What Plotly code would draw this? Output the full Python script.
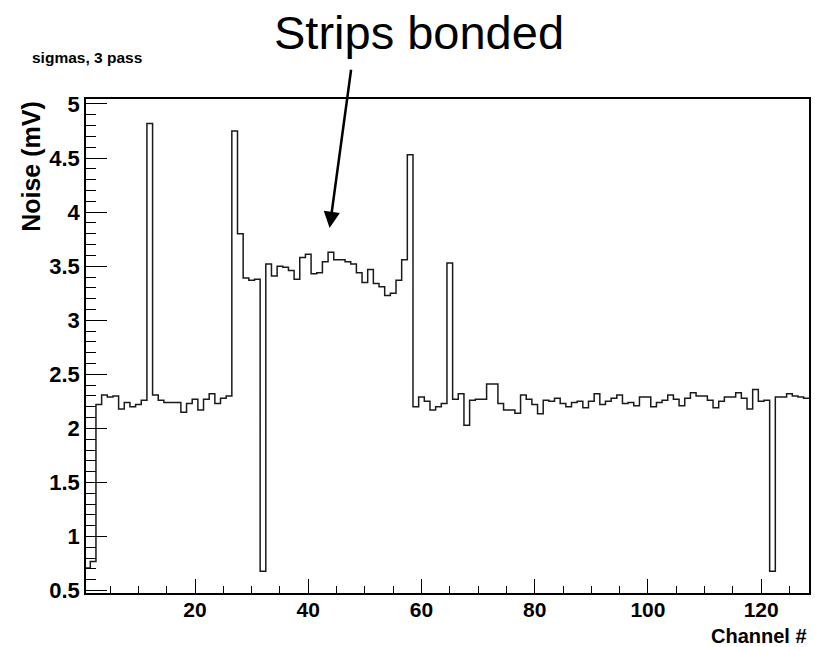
import plotly.graph_objects as go

channels = list(range(1, 129))
noise_mv = [
    0.71, 0.77, 2.22, 2.31, 2.29, 2.30, 2.18, 2.24, 2.20, 2.22,
    2.26, 4.82, 2.31, 2.26, 2.24, 2.24, 2.24, 2.15, 2.23, 2.27,
    2.17, 2.27, 2.32, 2.23, 2.28, 2.30, 4.75, 3.80, 3.39, 3.37,
    3.38, 0.68, 3.52, 3.41, 3.50, 3.49, 3.46, 3.38, 3.58, 3.61,
    3.43, 3.44, 3.54, 3.63, 3.56, 3.56, 3.54, 3.52, 3.44, 3.35,
    3.47, 3.34, 3.31, 3.23, 3.25, 3.37, 3.56, 4.53, 2.20, 2.29,
    2.25, 2.17, 2.20, 2.23, 3.53, 2.27, 2.32, 2.03, 2.26, 2.27,
    2.27, 2.41, 2.41, 2.23, 2.17, 2.17, 2.14, 2.31, 2.27, 2.22,
    2.135, 2.26, 2.25, 2.28, 2.23, 2.20, 2.24, 2.25, 2.19, 2.25,
    2.32, 2.22, 2.25, 2.28, 2.31, 2.23, 2.24, 2.21, 2.29, 2.29,
    2.20, 2.24, 2.26, 2.31, 2.27, 2.21, 2.28, 2.33, 2.30, 2.30,
    2.26, 2.19, 2.25, 2.29, 2.29, 2.33, 2.28, 2.18, 2.36, 2.25,
    2.26, 0.68, 2.29, 2.29, 2.32, 2.30, 2.29, 2.28,
]
x_ticks = [20, 40, 60, 80, 100, 120]
y_ticks = [0.5, 1, 1.5, 2, 2.5, 3, 3.5, 4, 4.5, 5]

# histogram step outline from bin edges
edges = [c - 0.5 for c in channels] + [channels[-1] + 0.5]
step_y = noise_mv + [noise_mv[-1]]

FONT = "Liberation Sans, Arial, Helvetica, sans-serif"

fig = go.Figure()
fig.add_trace(go.Scatter(
    x=edges, y=step_y, mode="lines", line_shape="hv",
    line=dict(color="#1a1a1a", width=1.5), hoverinfo="skip", showlegend=False,
))

fig.update_layout(
    width=815, height=647,
    margin=dict(l=86, r=4, t=99, b=54),
    paper_bgcolor="white", plot_bgcolor="white",
    showlegend=False,
    font=dict(family=FONT, color="black"),
    xaxis=dict(
        range=[0.74, 128.45], tickvals=x_ticks, ticktext=[str(v) for v in x_ticks],
        ticks="inside", ticklen=14, tickwidth=1.3, tickcolor="black",
        minor=dict(ticks="inside", ticklen=7, dtick=5, tick0=0, tickcolor="black", tickwidth=1.3),
        showgrid=False, zeroline=False, showline=True, linecolor="black", linewidth=2, mirror=True,
        tickfont=dict(family=FONT, size=21, color="black", weight="bold"),
        ticklabelstandoff=-3,
    ),
    yaxis=dict(
        range=[0.478, 5.046], tickvals=y_ticks, ticktext=[("%g" % v) for v in y_ticks],
        ticks="inside", ticklen=21, tickwidth=1.3, tickcolor="black",
        minor=dict(ticks="inside", ticklen=10, dtick=0.1, tick0=0.5, tickcolor="black", tickwidth=1.3),
        showgrid=False, zeroline=False, showline=True, linecolor="black", linewidth=1.5, mirror=True,
        tickfont=dict(family=FONT, size=22, color="black", weight="bold"),
    ),
)

fig.add_annotation(
    text="Noise (mV)", textangle=-90, xref="paper", yref="paper",
    x=-0.077, y=1.0, xanchor="center", yanchor="top", showarrow=False,
    font=dict(family=FONT, size=25, color="black", weight="bold"),
)
fig.add_annotation(
    text="Channel #", xref="paper", yref="paper",
    x=1.0, y=-0.088, xanchor="right", yanchor="middle", showarrow=False,
    font=dict(family=FONT, size=20, color="black", weight="bold"),
)
fig.add_annotation(
    text="sigmas, 3 pass", xref="paper", yref="paper",
    x=-0.077, y=1.083, xanchor="left", yanchor="middle", showarrow=False,
    font=dict(family=FONT, size=15.5, color="black", weight="bold"),
)
fig.add_annotation(
    text="Strips bonded", xref="paper", yref="paper",
    x=0.46, y=1.135, xanchor="center", yanchor="middle", showarrow=False,
    font=dict(family=FONT, size=47, color="black"),
)
fig.add_annotation(
    x=43.77, y=3.854, ax=47.6, ay=5.33, xref="x", yref="y", axref="x", ayref="y",
    text="", showarrow=True, arrowhead=2, arrowsize=1.3, arrowwidth=2.5, arrowcolor="black",
)

fig.write_html("out.html")
